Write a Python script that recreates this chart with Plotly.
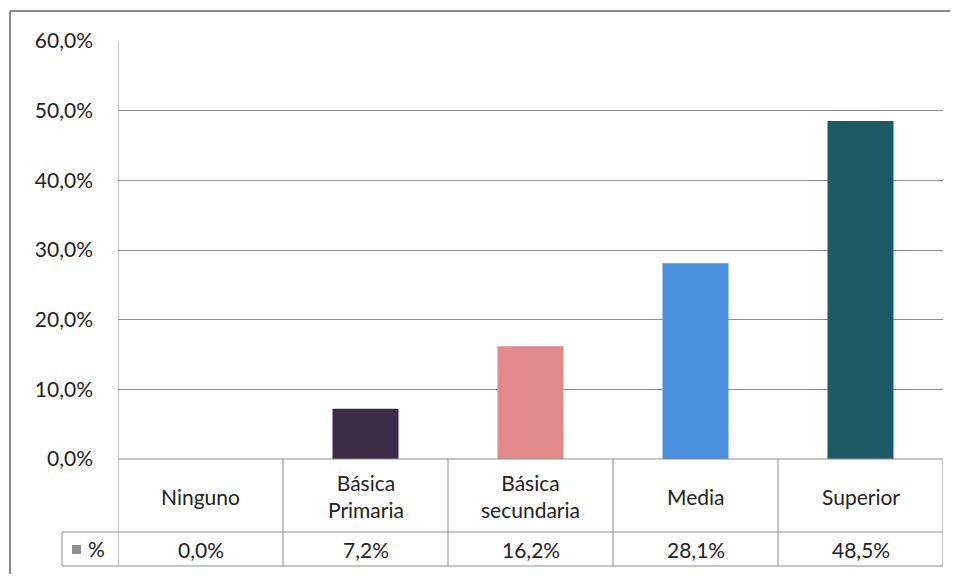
import plotly.graph_objects as go

categories = ["Ninguno", "Básica<br>Primaria", "Básica<br>secundaria", "Media", "Superior"]
values = [0.0, 7.2, 16.2, 28.1, 48.5]
bar_colors = ["#3b2a48", "#3b2a48", "#e08a8c", "#4a8ede", "#1b5a66"]
series_name = "%"
y_ticks = [0, 10, 20, 30, 40, 50, 60]

OFF = 8  # default page body margin
W, H = 958 - 2 * OFF, 582 - 2 * OFF
L, R, T, B = 118 - OFF, 943 - OFF, 41 - OFF, 459 - OFF
pw, ph = R - L, B - T


def px(x):
    return (x - OFF - L) / pw


def py(y):
    return (B - (y - OFF)) / ph


FONT = "Lato, 'Open Sans', sans-serif"
FS = 21
line_col = "#8c8c8c"

fig = go.Figure(go.Bar(
    x=list(range(len(categories))),
    y=values,
    marker=dict(color=bar_colors, line=dict(width=0)),
    width=0.4,
    showlegend=False,
    hoverinfo="skip",
))

shapes = []
row1_bot = py(532)
row2_bot = py(566)
shapes.append(dict(type="line", xref="x", yref="paper", x0=-0.5, x1=len(categories) - 0.5,
                   y0=0, y1=0, line=dict(color=line_col, width=1)))
shapes.append(dict(type="line", xref="paper", yref="paper", x0=px(62), x1=1,
                   y0=row1_bot, y1=row1_bot, line=dict(color=line_col, width=1)))
shapes.append(dict(type="line", xref="paper", yref="paper", x0=px(62), x1=1,
                   y0=row2_bot, y1=row2_bot, line=dict(color=line_col, width=1)))
for k in range(len(categories) + 1):
    shapes.append(dict(type="line", xref="x", yref="paper", x0=k - 0.5, x1=k - 0.5,
                       y0=row2_bot, y1=0 if k > 0 else 1,
                       line=dict(color=line_col, width=1)))
shapes.append(dict(type="line", xref="paper", yref="paper", x0=px(62), x1=px(62),
                   y0=row2_bot, y1=row1_bot, line=dict(color=line_col, width=1)))
shapes.append(dict(type="rect", xref="paper", yref="paper", x0=px(72), x1=px(81),
                   y0=py(554), y1=py(545), fillcolor="#8f8f8f", line=dict(width=0)))
# outer border (top and left)
shapes.append(dict(type="line", xref="paper", yref="paper", x0=px(10), x1=px(958),
                   y0=py(11), y1=py(11), line=dict(color="#8a8a8a", width=2)))
shapes.append(dict(type="line", xref="paper", yref="paper", x0=px(10), x1=px(10),
                   y0=py(11), y1=py(590), line=dict(color="#8a8a8a", width=2)))

annotations = []
for i, c in enumerate(categories):
    annotations.append(dict(x=i, xref="x", y=py(496), yref="paper", text=c, showarrow=False,
                            font=dict(family=FONT, size=FS, color="#222222"), align="center",
                            xanchor="center", yanchor="middle"))
    annotations.append(dict(x=i, xref="x", y=py(549), yref="paper",
                            text=f"{values[i]:.1f}%".replace(".", ","), showarrow=False,
                            font=dict(family=FONT, size=FS, color="#222222"),
                            xanchor="center", yanchor="middle"))
annotations.append(dict(x=px(86), xref="paper", y=py(548), yref="paper", text=series_name,
                        showarrow=False, font=dict(family=FONT, size=FS, color="#222222"),
                        xanchor="left", yanchor="middle"))

fig.update_layout(
    width=W, height=H,
    margin=dict(l=L, r=W - R, t=T, b=H - B, pad=0),
    paper_bgcolor="white", plot_bgcolor="white",
    separators=",.",
    shapes=shapes,
    annotations=annotations,
    xaxis=dict(range=[-0.5, len(categories) - 0.5], showticklabels=False, showgrid=False,
               zeroline=False, showline=False, fixedrange=True),
    yaxis=dict(range=[0, 60], tickvals=y_ticks,
               ticktext=[f"{v:.1f}%".replace(".", ",") for v in y_ticks],
               showgrid=True, gridcolor=line_col, gridwidth=1, zeroline=False,
               showline=False, ticks="", ticklabelstandoff=24,
               tickfont=dict(family=FONT, size=FS, color="#222222")),
)

fig.write_html("out.html")
